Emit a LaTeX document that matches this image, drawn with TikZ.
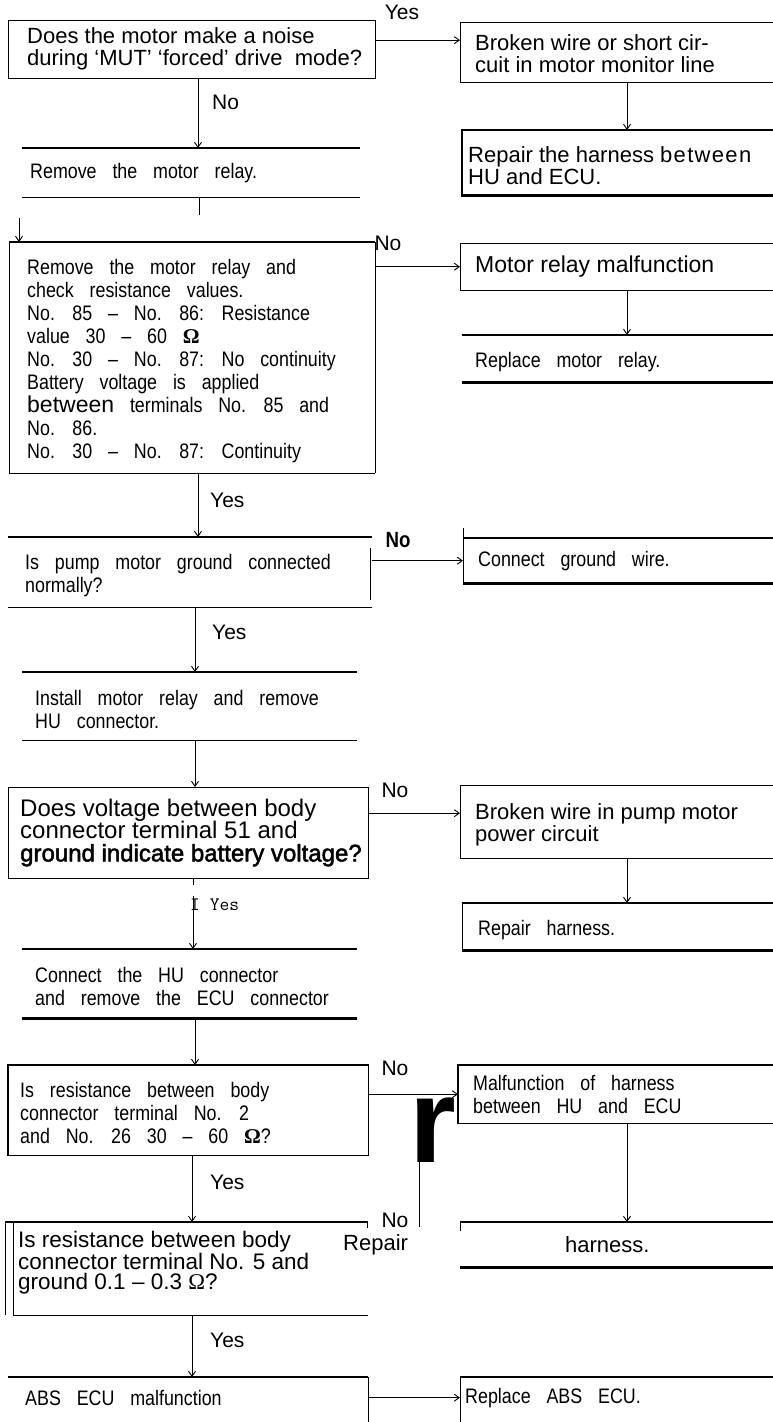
\documentclass[tikz,border=0pt]{standalone}
\usepackage{fontspec}
\setmainfont{Liberation Sans}
\newfontfamily\univ{Liberation Sans}
\newfontfamily\cond[FakeStretch=0.85,WordSpace=3.2]{Liberation Sans}
\newfontfamily\serf{Liberation Serif}
\newcommand\OmB{{\serf\bfseries Ω}}
\newcommand\OmR{{\serf Ω}}
\usetikzlibrary{arrows.meta,calc}
\tikzset{
  box/.style={draw=none,inner sep=0pt,anchor=north west},
  tu/.style={inner sep=0pt,anchor=west,align=left,font=\univ\fontsize{22}{22}\selectfont},
  tc/.style={inner sep=0pt,anchor=west,align=left,font=\cond\fontsize{21}{23}\selectfont},
  lab/.style={inner sep=0pt,font=\univ\fontsize{21}{21}\selectfont},
  ln/.style={line width=0.9pt},
  med/.style={line width=1.7pt},
  thk/.style={line width=2.5pt},
  arr/.style={line width=0.9pt,-{Straight Barb[length=5pt,width=7pt]}}
}
\begin{document}
\begin{tikzpicture}[x=1pt,y=-1pt]
\useasboundingbox (0,0) rectangle (773,1422);
\fill[white] (0,0) rectangle (773,1422);
\coordinate (xa) at (198,0);
\coordinate (xb) at (195,0);
\coordinate (xc) at (192,0);
\coordinate (xr) at (627,0);

% ---------- row 1
\node[box,minimum width=367pt,minimum height=58pt] (q1) at (8,20) {};
\node[tu] (q1t) at ([xshift=19pt]q1.west) {Does the motor make a noise\\during ‘MUT’ ‘forced’ drive\ \ mode?};
\draw[ln] (q1.north west) rectangle (q1.south east);

\node[box,minimum width=315pt,minimum height=60pt] (a1) at (460,22) {};
\node[tu] (a1t) at ([xshift=15pt,yshift=-1pt]a1.west) {Broken wire or short cir-\\cuit in motor monitor line};
\draw[ln] (a1.north east) -- (a1.north west) -- (a1.south west) -- (a1.south east);

\node[box,minimum width=313pt,minimum height=65pt] (a1b) at (462,130) {};
\node[tu] (a1bt) at ([xshift=6pt,yshift=-3pt]a1b.west) {Repair the harness {\addfontfeatures{LetterSpace=6}between}\\HU and ECU.};
\draw[thk] (a1b.north east) -- (a1b.north west) -- (a1b.south west) -- (a1b.south east);

\draw[arr] ([yshift=9pt]q1.east) -- ([yshift=9pt]q1.east -| a1.west);
\node[lab] (l1) at (402,12) {Yes};
\draw[arr] (a1.south -| xr) -- (a1b.north -| xr);

\node[box,minimum width=338pt,minimum height=49pt] (s1) at (22,148) {};
\node[tc] (s1t) at ([xshift=8pt]s1.west) {Remove the motor relay.};
\draw[med] (s1.north west) -- (s1.north east) (s1.south west) -- (s1.south east);
\draw[arr] (q1.south -| xa) -- (s1.north -| xa);
\node[lab,anchor=west] (l2) at (212,102) {No};

% ---------- row 2
\node[box,minimum width=366pt,minimum height=231pt] (q2) at (9,242) {};
\node[tc] (q2t) at ([xshift=18pt,yshift=-3pt]q2.west) {Remove the motor relay and\\check resistance values.\\No. 85 – No. 86: Resistance\\value 30 – 60 \OmB\\No. 30 – No. 87: No continuity\\Battery voltage is applied\\{\univ\fontsize{23}{23}\selectfont between} terminals No. 85 and\\No. 86.\\No. 30 – No. 87: Continuity};
\draw[ln] (q2.north west) -- (q2.south west) (q2.north east) -- (q2.south east);
\draw[med] (q2.north west) -- (q2.north east) (q2.south west) -- (q2.south east);

\coordinate (s1x) at (199,215);
\draw[ln] (s1.south -| s1x) -- (s1x);
\coordinate (q2in) at (19,218);
\draw[arr] (q2in) -- (q2in |- q2.north);

\node[box,minimum width=315pt,minimum height=47pt] (a2) at (460,243) {};
\node[tu,font=\univ\fontsize{23}{23}\selectfont] (a2t) at ([xshift=15pt]a2.west) {Motor relay malfunction};
\draw[ln] (a2.north east) -- (a2.north west) -- (a2.south west) -- (a2.south east);

\node[box,minimum width=313pt,minimum height=47pt] (a2b) at (462,335) {};
\node[tc] (a2bt) at ([xshift=13pt,yshift=-3pt]a2b.west) {Replace motor relay.};
\draw[thk] (a2b.north west) -- (a2b.north east) (a2b.south west) -- (a2b.south east);

\draw[arr] (q2.east |- a2.west) -- (a2.west);
\node[lab] (l3) at (388,243) {No};
\draw[arr] (a2.south -| xr) -- (a2b.north -| xr);

% ---------- row 3
\node[box,minimum width=364pt,minimum height=70pt] (q3) at (8,537) {};
\node[tc] (q3t) at ([xshift=17pt,yshift=-3pt]q3.west) {Is pump motor ground connected\\normally?};
\draw[med] (q3.north west) -- (q3.north east) (q3.south west) -- (q3.south east);
\draw[ln] ([shift={(-2pt,-11pt)}]q3.north east) -- ([shift={(-2pt,7pt)}]q3.south east);
\draw[arr] (q2.south -| xa) -- (q3.north -| xa);
\node[lab,anchor=west] (l4) at (210,500) {Yes};

\node[box,minimum width=312pt,minimum height=45pt] (a3) at (463,538) {};
\node[tc] (a3t) at ([xshift=15pt]a3.west) {Connect ground wire.};
\draw[thk] (a3.north west) -- (a3.north east) (a3.south west) -- (a3.south east);
\draw[ln] ([yshift=10pt]a3.north west) -- (a3.south west);
\draw[arr] (q3.east |- a3.west) -- (a3.west);
\node[lab,font=\cond\bfseries\fontsize{22}{22}\selectfont] (l5) at (398,540) {No};

\node[box,minimum width=335pt,minimum height=68pt] (s2) at (22,672) {};
\node[tc] (s2t) at ([xshift=13pt,yshift=-3pt]s2.west) {Install motor relay and remove\\HU connector.};
\draw[med] (s2.north west) -- (s2.north east) (s2.south west) -- (s2.south east);
\draw[arr] (q3.south -| xb) -- (s2.north -| xb);
\node[lab,anchor=west] (l6) at (212,632) {Yes};

% ---------- row 4
\node[box,minimum width=360pt,minimum height=91pt] (q4) at (8,787) {};
\node[tu,font=\univ\fontsize{24}{22.5}\selectfont] (q4t) at ([xshift=12pt]q4.west) {Does voltage between body\\connector terminal 51 and\\{\addfontfeatures{FakeBold=2}ground indicate battery voltage?}};
\draw[ln] (q4.north west) rectangle (q4.south east);
\draw[arr] (s2.south -| xb) -- (q4.north -| xb);

\node[box,minimum width=315pt,minimum height=73pt] (a4) at (460,785) {};
\node[tu] (a4t) at ([xshift=15pt,yshift=-3pt]a4.west) {Broken wire in pump motor\\power circuit};
\draw[ln] (a4.north east) -- (a4.north west) -- (a4.south west) -- (a4.south east);
\coordinate (ar4) at ([yshift=8.5pt]a4.west);
\draw[arr] (q4.east |- ar4) -- (ar4);
\node[lab] (l7) at (395,790) {No};

\node[box,minimum width=313pt,minimum height=47pt] (a4b) at (462,903) {};
\node[tc] (a4bt) at ([xshift=16pt,yshift=-3pt]a4b.west) {Repair harness.};
\draw[thk] (a4b.north west) -- (a4b.north east) (a4b.south west) -- (a4b.south east);
\draw[ln] (a4b.north west) -- (a4b.south west);
\draw[arr] (a4.south -| xr) -- (a4b.north -| xr);

\node[box,minimum width=335pt,minimum height=69pt] (s3) at (22,949) {};
\node[tc] (s3t) at ([xshift=13pt,yshift=-3pt]s3.west) {Connect the HU connector\\and remove the ECU connector};
\draw[med] (s3.north west) -- (s3.north east);
\draw[thk] (s3.south west) -- (s3.south east);
\coordinate (xq) at (193,0);
\draw[ln] (q4.south -| xq) -- ++(0,7);
\draw[arr] ($(q4.south -| xq)+(0,18)$) -- (s3.north -| xq);
\node[inner sep=0pt,anchor=west,font=\ttfamily\fontsize{19}{19}\selectfont] (l8) at (190,905) {I Yes};

% ---------- row 5
\node[box,minimum width=360pt,minimum height=90pt] (q5) at (8,1065) {};
\node[tc] (q5t) at ([xshift=12pt,yshift=-3pt]q5.west) {Is resistance between body\\connector terminal No. 2\\and No. 26 30 – 60 \OmB?};
\draw[line width=1.1pt] (q5.north west) rectangle (q5.south east);
\draw[thk] (q5.north west) -- ++(82,0);
\draw[arr] (s3.south -| xb) -- (q5.north -| xb);

\node[box,minimum width=317pt,minimum height=58pt] (a5) at (458,1065) {};
\node[tc] (a5t) at ([xshift=15pt]a5.west) {Malfunction of harness\\between HU and ECU};
\draw[line width=1.1pt] (a5.north east) -- (a5.north west) -- (a5.south west) -- (a5.south east);
\draw[arr] (q5.east |- a5.west) -- (a5.west);
\node[lab] (l9) at (395,1068) {No};

\node[inner sep=0pt,font=\univ\bfseries\fontsize{120}{120}\selectfont] (rr) at (433,1130) {r};
\coordinate (v1) at (419,1162);
\coordinate (v2) at (419,1227);
\draw[ln] (v1) -- (v2);

\node[box,minimum width=315pt,minimum height=45pt] (a5b) at (460,1222) {};
\draw[thk] (a5b.north west) -- (a5b.north east) (a5b.south west) -- (a5b.south east);
\draw[ln] (a5b.north west) -- ++(0,9);
\node[inner sep=0pt,anchor=west,font=\univ\fontsize{22}{22}\selectfont] (a5bt1) at (343,1245) {Repair};
\node[inner sep=0pt,anchor=west,font=\univ\fontsize{22}{22}\selectfont] (a5bt2) at (565,1245) {harness.};
\draw[arr] (a5.south -| xr) -- (a5b.north -| xr);

% ---------- row 6
\node[box,minimum width=363pt,minimum height=93pt] (q6) at (5,1222) {};
\node[tu,font=\univ\fontsize{22.5}{20}\selectfont] (q6t) at ([xshift=13pt,yshift=6pt]q6.west) {Is resistance between body\\connector terminal No. 5 and\\ground 0.1 – 0.3 \OmR?};
\draw[line width=1.2pt] (q6.north west) -- ([xshift=-1pt]q6.north east) -- ++(0,6);
\draw[ln] (q6.north west) -- (q6.south west);
\draw[ln] ([xshift=8pt]q6.north west) -- ([xshift=8pt]q6.south west);
\draw[line width=1.4pt] ([xshift=8pt]q6.south west) -- (q6.south east);
\draw[arr] (q5.south -| xc) -- (q6.north -| xc);
\node[lab,anchor=west] (l10) at (210,1182) {Yes};
\node[lab] (l11) at (395,1220) {No};

\node[box,minimum width=360pt,minimum height=45pt] (abs) at (8,1377) {};
\node[tc] (abst) at ([xshift=17pt,yshift=2pt]abs.west) {ABS ECU malfunction};
\draw[med] (abs.north west) -- (abs.north east);
\draw[ln] (abs.north east) -- (abs.south east);
\draw[arr] (q6.south -| xc) -- (abs.north -| xc);
\node[lab,anchor=west] (l12) at (210,1340) {Yes};

\node[box,minimum width=315pt,minimum height=45pt] (a6) at (460,1377) {};
\node[tc] (a6t) at ([xshift=5pt,yshift=2pt]a6.west) {Replace ABS ECU.};
\draw[med] (a6.north west) -- (a6.north east);
\draw[ln] (a6.north west) -- (a6.south west);
\draw[arr] ([yshift=2pt]abs.east) -- ([yshift=2pt]a6.west);
\end{tikzpicture}
\end{document}
